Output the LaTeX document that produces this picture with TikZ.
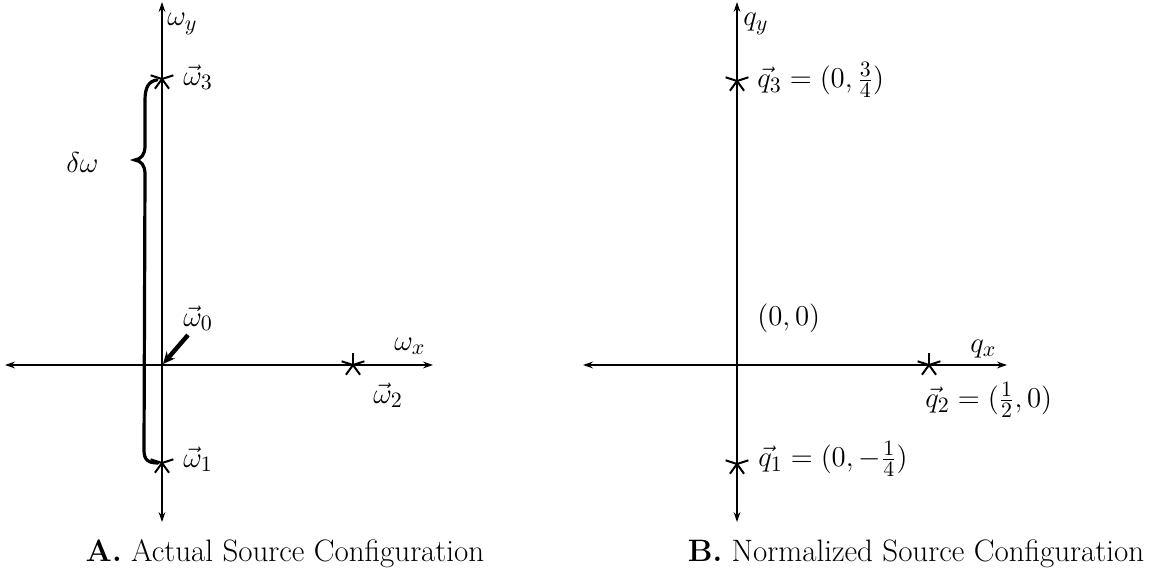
\documentclass[tikz,border=0pt]{standalone}
\usetikzlibrary{arrows.meta}
\newcommand\srcstar[1]{\foreach \a in {54,126,198,270,342} \draw[starline] (#1) -- ++(\a:12);}
\begin{document}
\begin{tikzpicture}[x=0.5pt,y=-0.5pt,
  every node/.style={font=\fontsize{15.5}{18}\selectfont, inner sep=0pt},
  axis/.style={line width=0.9pt, {Stealth[length=5pt,width=3.4pt]}-{Stealth[length=5pt,width=3.4pt]}},
  starline/.style={line width=1pt},
  bracepath/.style={line width=1.6pt, line cap=round},
  ptr/.style={line width=2.2pt, -{Stealth[length=6pt,width=5.5pt]}},
  lbl/.style={anchor=west}]
\useasboundingbox (0,0) rectangle (1166,571);
% ---------- Panel A ----------
\coordinate (aT) at (162,2);
\coordinate (aB) at (162,522);
\coordinate (aL) at (5,365);
\coordinate (aR) at (433,365);
\coordinate (aO) at (163,364);
\coordinate (w3) at (162,79);
\coordinate (w1) at (162,463);
\coordinate (w2) at (353,365);
\draw[axis] (aB) -- (aT);
\draw[axis] (aL) -- (aR);
\srcstar{w3}
\srcstar{w1}
\srcstar{w2}
\node[lbl] (wy) at (167,24) {$\omega_y$};
\node[lbl] (w3l) at (183,77) {$\vec{\omega}_3$};
\node[lbl] (w0l) at (183,318) {$\vec{\omega}_0$};
\node[lbl] (wxl) at (394,346) {$\omega_x$};
\node[lbl] (w2l) at (373,395) {$\vec{\omega}_2$};
\node[lbl] (w1l) at (183,459) {$\vec{\omega}_1$};
\node[lbl] (dw) at (66,163) {$\delta\omega$};
\coordinate (ps) at (188,335);
\draw[ptr] (ps) -- (aO);
\draw[bracepath] (157,80) .. controls (149,81) and (145,87) .. (145,100)
  -- (145,146) .. controls (145,155) and (141,159) .. (135,160)
  .. controls (141,161) and (145,165) .. (145,174)
  -- (144,450) .. controls (144,460) and (148,463) .. (158,463);
% ---------- Panel B ----------
\coordinate (bT) at (737,2);
\coordinate (bB) at (737,522);
\coordinate (bL) at (583,365);
\coordinate (bR) at (1007,365);
\coordinate (q3) at (737,81);
\coordinate (q1) at (737,464);
\coordinate (q2) at (929,365);
\draw[axis] (bB) -- (bT);
\draw[axis] (bL) -- (bR);
\srcstar{q3}
\srcstar{q1}
\srcstar{q2}
\node[lbl] (qy) at (743,24) {$q_y$};
\node[lbl] (q3l) at (757,80) {$\vec{q}_3=(0,\frac{3}{4})$};
\node[lbl] (o) at (757,318) {$(0,0)$};
\node[lbl] (qxl) at (970,349) {$q_x$};
\node[lbl] (q2l) at (925,400) {$\vec{q}_2=(\frac{1}{2},0)$};
\node[lbl] (q1l) at (758,459) {$\vec{q}_1=(0,-\frac{1}{4})$};
% ---------- Captions ----------
\node[anchor=center] (capA) at (285,554) {\textbf{A.} Actual Source Configuration};
\node[anchor=center] (capB) at (916,554) {\textbf{B.} Normalized Source Configuration};
\end{tikzpicture}
\end{document}
